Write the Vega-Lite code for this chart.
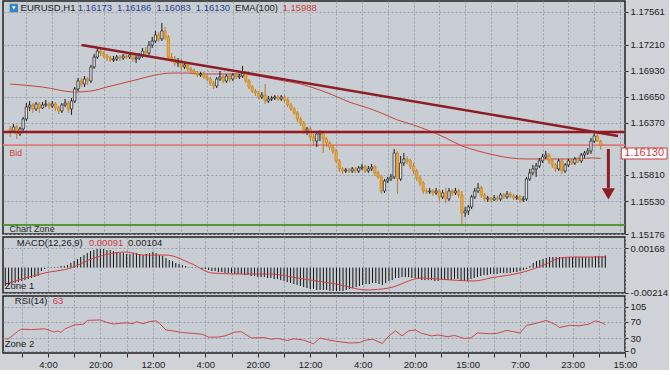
{
"$schema": "https://vega.github.io/schema/vega-lite/v6.json",
"padding": 0,
"background": "#cfd3d7",
"spacing": 3,
"bounds": "flush",
"config": {
 "view": {"fill": "#c8ced4", "stroke": "#222222", "strokeWidth": 1.5},
 "axis": {"labelFont": "Liberation Sans", "labelFontSize": 9.5, "labelColor": "#1c1c1c", "gridColor": "#98a1a9", "gridDash": [2,2], "gridWidth": 1, "tickColor": "#2a2a2a", "tickSize": 3, "labelPadding": 2, "domain": false},
 "text": {"font": "Liberation Sans", "fontSize": 9.5, "baseline": "middle", "align": "left"}
},
"datasets": {
 "k": [
{"i":0,"o":1.16304,"h":1.16336,"l":1.16218,"c":1.16283,"m":-0.00158},
{"i":1,"o":1.16283,"h":1.16358,"l":1.16261,"c":1.16326,"m":-0.00149},
{"i":2,"o":1.16326,"h":1.16347,"l":1.16197,"c":1.16250,"m":-0.00141},
{"i":3,"o":1.16250,"h":1.16326,"l":1.16229,"c":1.16304,"m":-0.00132},
{"i":4,"o":1.16304,"h":1.16433,"l":1.16283,"c":1.16412,"m":-0.00124},
{"i":5,"o":1.16412,"h":1.16583,"l":1.16390,"c":1.16540,"m":-0.00115},
{"i":6,"o":1.16540,"h":1.16605,"l":1.16497,"c":1.16562,"m":-0.00107},
{"i":7,"o":1.16562,"h":1.16583,"l":1.16476,"c":1.16519,"m":-0.00098},
{"i":8,"o":1.16519,"h":1.16594,"l":1.16497,"c":1.16573,"m":-0.00089},
{"i":9,"o":1.16573,"h":1.16594,"l":1.16476,"c":1.16530,"m":-0.00081},
{"i":10,"o":1.16530,"h":1.16594,"l":1.16519,"c":1.16562,"m":-0.00072},
{"i":11,"o":1.16562,"h":1.16616,"l":1.16540,"c":1.16573,"m":-0.00029},
{"i":12,"o":1.16573,"h":1.16594,"l":1.16519,"c":1.16551,"m":-0.00012},
{"i":13,"o":1.16551,"h":1.16605,"l":1.16530,"c":1.16573,"m":-0.00003},
{"i":14,"o":1.16573,"h":1.16594,"l":1.16497,"c":1.16530,"m":0.00005},
{"i":15,"o":1.16530,"h":1.16551,"l":1.16465,"c":1.16497,"m":0.00005},
{"i":16,"o":1.16497,"h":1.16583,"l":1.16476,"c":1.16562,"m":0.00005},
{"i":17,"o":1.16562,"h":1.16626,"l":1.16540,"c":1.16583,"m":0.00014},
{"i":18,"o":1.16583,"h":1.16605,"l":1.16476,"c":1.16519,"m":0.00014},
{"i":19,"o":1.16519,"h":1.16637,"l":1.16455,"c":1.16605,"m":0.00022},
{"i":20,"o":1.16605,"h":1.16755,"l":1.16583,"c":1.16734,"m":0.00040},
{"i":21,"o":1.16734,"h":1.16852,"l":1.16712,"c":1.16820,"m":0.00057},
{"i":22,"o":1.16820,"h":1.16852,"l":1.16755,"c":1.16787,"m":0.00074},
{"i":23,"o":1.16787,"h":1.16873,"l":1.16755,"c":1.16841,"m":0.00091},
{"i":24,"o":1.16841,"h":1.16863,"l":1.16777,"c":1.16820,"m":0.00108},
{"i":25,"o":1.16820,"h":1.16992,"l":1.16798,"c":1.16970,"m":0.00125},
{"i":26,"o":1.16970,"h":1.17110,"l":1.16949,"c":1.17077,"m":0.00143},
{"i":27,"o":1.17077,"h":1.17174,"l":1.17056,"c":1.17142,"m":0.00151},
{"i":28,"o":1.17142,"h":1.17163,"l":1.17088,"c":1.17120,"m":0.00160},
{"i":29,"o":1.17120,"h":1.17142,"l":1.17067,"c":1.17088,"m":0.00160},
{"i":30,"o":1.17088,"h":1.17110,"l":1.17034,"c":1.17067,"m":0.00160},
{"i":31,"o":1.17067,"h":1.17088,"l":1.17024,"c":1.17045,"m":0.00151},
{"i":32,"o":1.17045,"h":1.17088,"l":1.17024,"c":1.17056,"m":0.00151},
{"i":33,"o":1.17056,"h":1.17099,"l":1.17034,"c":1.17077,"m":0.00143},
{"i":34,"o":1.17077,"h":1.17099,"l":1.17034,"c":1.17067,"m":0.00134},
{"i":35,"o":1.17067,"h":1.17110,"l":1.17045,"c":1.17088,"m":0.00125},
{"i":36,"o":1.17088,"h":1.17110,"l":1.17056,"c":1.17077,"m":0.00125},
{"i":37,"o":1.17077,"h":1.17120,"l":1.17056,"c":1.17099,"m":0.00117},
{"i":38,"o":1.17099,"h":1.17120,"l":1.17024,"c":1.17056,"m":0.00117},
{"i":39,"o":1.17056,"h":1.17099,"l":1.17013,"c":1.17067,"m":0.00125},
{"i":40,"o":1.17067,"h":1.17120,"l":1.17045,"c":1.17088,"m":0.00125},
{"i":41,"o":1.17088,"h":1.17174,"l":1.17067,"c":1.17142,"m":0.00117},
{"i":42,"o":1.17142,"h":1.17185,"l":1.17088,"c":1.17120,"m":0.00108},
{"i":43,"o":1.17120,"h":1.17249,"l":1.17099,"c":1.17206,"m":0.00117},
{"i":44,"o":1.17206,"h":1.17292,"l":1.17174,"c":1.17249,"m":0.00125},
{"i":45,"o":1.17249,"h":1.17357,"l":1.17228,"c":1.17314,"m":0.00134},
{"i":46,"o":1.17314,"h":1.17346,"l":1.17239,"c":1.17271,"m":0.00125},
{"i":47,"o":1.17271,"h":1.17443,"l":1.17249,"c":1.17357,"m":0.00108},
{"i":48,"o":1.17357,"h":1.17400,"l":1.17260,"c":1.17292,"m":0.00100},
{"i":49,"o":1.17292,"h":1.17314,"l":1.17056,"c":1.17077,"m":0.00082},
{"i":50,"o":1.17077,"h":1.17120,"l":1.17024,"c":1.17056,"m":0.00065},
{"i":51,"o":1.17056,"h":1.17088,"l":1.16981,"c":1.17013,"m":0.00057},
{"i":52,"o":1.17013,"h":1.17067,"l":1.16970,"c":1.17034,"m":0.00040},
{"i":53,"o":1.17034,"h":1.17056,"l":1.16938,"c":1.16970,"m":0.00031},
{"i":54,"o":1.16970,"h":1.17024,"l":1.16949,"c":1.16992,"m":0.00022},
{"i":55,"o":1.16992,"h":1.17013,"l":1.16927,"c":1.16949,"m":0.00014},
{"i":56,"o":1.16949,"h":1.16970,"l":1.16905,"c":1.16927,"m":0.00005},
{"i":57,"o":1.16927,"h":1.16949,"l":1.16884,"c":1.16905,"m":0.00005},
{"i":58,"o":1.16905,"h":1.16927,"l":1.16863,"c":1.16884,"m":-0.00003},
{"i":59,"o":1.16884,"h":1.16916,"l":1.16863,"c":1.16895,"m":-0.00003},
{"i":60,"o":1.16895,"h":1.16916,"l":1.16841,"c":1.16863,"m":-0.00012},
{"i":61,"o":1.16863,"h":1.16884,"l":1.16820,"c":1.16841,"m":-0.00012},
{"i":62,"o":1.16841,"h":1.16863,"l":1.16766,"c":1.16798,"m":-0.00021},
{"i":63,"o":1.16798,"h":1.16820,"l":1.16734,"c":1.16766,"m":-0.00029},
{"i":64,"o":1.16766,"h":1.16863,"l":1.16744,"c":1.16841,"m":-0.00029},
{"i":65,"o":1.16841,"h":1.16927,"l":1.16820,"c":1.16863,"m":-0.00038},
{"i":66,"o":1.16863,"h":1.16884,"l":1.16798,"c":1.16820,"m":-0.00038},
{"i":67,"o":1.16820,"h":1.16895,"l":1.16798,"c":1.16873,"m":-0.00046},
{"i":68,"o":1.16873,"h":1.16895,"l":1.16809,"c":1.16841,"m":-0.00046},
{"i":69,"o":1.16841,"h":1.16905,"l":1.16820,"c":1.16884,"m":-0.00046},
{"i":70,"o":1.16884,"h":1.16905,"l":1.16841,"c":1.16863,"m":-0.00055},
{"i":71,"o":1.16863,"h":1.16895,"l":1.16841,"c":1.16873,"m":-0.00055},
{"i":72,"o":1.16873,"h":1.16981,"l":1.16852,"c":1.16905,"m":-0.00055},
{"i":73,"o":1.16905,"h":1.16927,"l":1.16798,"c":1.16820,"m":-0.00064},
{"i":74,"o":1.16820,"h":1.16841,"l":1.16734,"c":1.16755,"m":-0.00064},
{"i":75,"o":1.16755,"h":1.16777,"l":1.16691,"c":1.16712,"m":-0.00072},
{"i":76,"o":1.16712,"h":1.16734,"l":1.16659,"c":1.16691,"m":-0.00072},
{"i":77,"o":1.16691,"h":1.16712,"l":1.16626,"c":1.16648,"m":-0.00081},
{"i":78,"o":1.16648,"h":1.16701,"l":1.16626,"c":1.16669,"m":-0.00081},
{"i":79,"o":1.16669,"h":1.16787,"l":1.16573,"c":1.16605,"m":-0.00081},
{"i":80,"o":1.16605,"h":1.16659,"l":1.16583,"c":1.16626,"m":-0.00089},
{"i":81,"o":1.16626,"h":1.16659,"l":1.16605,"c":1.16637,"m":-0.00089},
{"i":82,"o":1.16637,"h":1.16669,"l":1.16616,"c":1.16648,"m":-0.00098},
{"i":83,"o":1.16648,"h":1.16669,"l":1.16605,"c":1.16626,"m":-0.00098},
{"i":84,"o":1.16626,"h":1.16669,"l":1.16605,"c":1.16648,"m":-0.00107},
{"i":85,"o":1.16648,"h":1.16669,"l":1.16594,"c":1.16616,"m":-0.00115},
{"i":86,"o":1.16616,"h":1.16637,"l":1.16540,"c":1.16562,"m":-0.00124},
{"i":87,"o":1.16562,"h":1.16583,"l":1.16497,"c":1.16519,"m":-0.00132},
{"i":88,"o":1.16519,"h":1.16540,"l":1.16455,"c":1.16476,"m":-0.00141},
{"i":89,"o":1.16476,"h":1.16497,"l":1.16379,"c":1.16412,"m":-0.00149},
{"i":90,"o":1.16412,"h":1.16433,"l":1.16336,"c":1.16369,"m":-0.00158},
{"i":91,"o":1.16369,"h":1.16390,"l":1.16250,"c":1.16283,"m":-0.00167},
{"i":92,"o":1.16283,"h":1.16326,"l":1.16240,"c":1.16304,"m":-0.00175},
{"i":93,"o":1.16304,"h":1.16326,"l":1.16175,"c":1.16218,"m":-0.00184},
{"i":94,"o":1.16218,"h":1.16250,"l":1.16122,"c":1.16175,"m":-0.00184},
{"i":95,"o":1.16175,"h":1.16283,"l":1.16111,"c":1.16250,"m":-0.00192},
{"i":96,"o":1.16250,"h":1.16293,"l":1.16175,"c":1.16261,"m":-0.00192},
{"i":97,"o":1.16261,"h":1.16283,"l":1.16046,"c":1.16197,"m":-0.00192},
{"i":98,"o":1.16197,"h":1.16218,"l":1.16111,"c":1.16154,"m":-0.00192},
{"i":99,"o":1.16154,"h":1.16175,"l":1.16079,"c":1.16111,"m":-0.00201},
{"i":100,"o":1.16111,"h":1.16132,"l":1.16036,"c":1.16068,"m":-0.00201},
{"i":101,"o":1.16068,"h":1.16089,"l":1.15939,"c":1.15961,"m":-0.00201},
{"i":102,"o":1.15961,"h":1.15982,"l":1.15842,"c":1.15875,"m":-0.00201},
{"i":103,"o":1.15875,"h":1.15896,"l":1.15821,"c":1.15853,"m":-0.00201},
{"i":104,"o":1.15853,"h":1.15885,"l":1.15832,"c":1.15864,"m":-0.00192},
{"i":105,"o":1.15864,"h":1.15885,"l":1.15832,"c":1.15853,"m":-0.00184},
{"i":106,"o":1.15853,"h":1.15896,"l":1.15832,"c":1.15875,"m":-0.00175},
{"i":107,"o":1.15875,"h":1.15896,"l":1.15832,"c":1.15853,"m":-0.00167},
{"i":108,"o":1.15853,"h":1.15907,"l":1.15832,"c":1.15885,"m":-0.00158},
{"i":109,"o":1.15885,"h":1.15928,"l":1.15864,"c":1.15896,"m":-0.00149},
{"i":110,"o":1.15896,"h":1.15918,"l":1.15832,"c":1.15853,"m":-0.00141},
{"i":111,"o":1.15853,"h":1.15907,"l":1.15832,"c":1.15875,"m":-0.00141},
{"i":112,"o":1.15875,"h":1.15928,"l":1.15853,"c":1.15896,"m":-0.00132},
{"i":113,"o":1.15896,"h":1.15918,"l":1.15800,"c":1.15832,"m":-0.00132},
{"i":114,"o":1.15832,"h":1.15853,"l":1.15767,"c":1.15789,"m":-0.00141},
{"i":115,"o":1.15789,"h":1.15810,"l":1.15606,"c":1.15638,"m":-0.00149},
{"i":116,"o":1.15638,"h":1.15767,"l":1.15617,"c":1.15746,"m":-0.00132},
{"i":117,"o":1.15746,"h":1.15789,"l":1.15724,"c":1.15767,"m":-0.00115},
{"i":118,"o":1.15767,"h":1.15821,"l":1.15746,"c":1.15789,"m":-0.00107},
{"i":119,"o":1.15789,"h":1.16089,"l":1.15767,"c":1.16046,"m":-0.00089},
{"i":120,"o":1.16046,"h":1.16068,"l":1.15606,"c":1.15767,"m":-0.00089},
{"i":121,"o":1.15767,"h":1.16014,"l":1.15746,"c":1.15939,"m":-0.00081},
{"i":122,"o":1.15939,"h":1.16046,"l":1.15907,"c":1.15982,"m":-0.00081},
{"i":123,"o":1.15982,"h":1.16014,"l":1.15928,"c":1.15961,"m":-0.00081},
{"i":124,"o":1.15961,"h":1.15982,"l":1.15875,"c":1.15907,"m":-0.00089},
{"i":125,"o":1.15907,"h":1.15939,"l":1.15821,"c":1.15853,"m":-0.00089},
{"i":126,"o":1.15853,"h":1.15875,"l":1.15746,"c":1.15778,"m":-0.00098},
{"i":127,"o":1.15778,"h":1.15800,"l":1.15692,"c":1.15724,"m":-0.00107},
{"i":128,"o":1.15724,"h":1.15746,"l":1.15606,"c":1.15638,"m":-0.00107},
{"i":129,"o":1.15638,"h":1.15671,"l":1.15606,"c":1.15628,"m":-0.00107},
{"i":130,"o":1.15628,"h":1.15671,"l":1.15606,"c":1.15638,"m":-0.00107},
{"i":131,"o":1.15638,"h":1.15660,"l":1.15585,"c":1.15617,"m":-0.00115},
{"i":132,"o":1.15617,"h":1.15671,"l":1.15595,"c":1.15638,"m":-0.00115},
{"i":133,"o":1.15638,"h":1.15660,"l":1.15531,"c":1.15574,"m":-0.00107},
{"i":134,"o":1.15574,"h":1.15649,"l":1.15552,"c":1.15617,"m":-0.00107},
{"i":135,"o":1.15617,"h":1.15671,"l":1.15510,"c":1.15552,"m":-0.00107},
{"i":136,"o":1.15552,"h":1.15671,"l":1.15531,"c":1.15638,"m":-0.00107},
{"i":137,"o":1.15638,"h":1.15660,"l":1.15585,"c":1.15617,"m":-0.00098},
{"i":138,"o":1.15617,"h":1.15671,"l":1.15595,"c":1.15638,"m":-0.00098},
{"i":139,"o":1.15638,"h":1.15660,"l":1.15563,"c":1.15595,"m":-0.00107},
{"i":140,"o":1.15595,"h":1.15638,"l":1.15284,"c":1.15402,"m":-0.00115},
{"i":141,"o":1.15402,"h":1.15467,"l":1.15359,"c":1.15424,"m":-0.00115},
{"i":142,"o":1.15424,"h":1.15488,"l":1.15381,"c":1.15467,"m":-0.00098},
{"i":143,"o":1.15467,"h":1.15595,"l":1.15445,"c":1.15574,"m":-0.00089},
{"i":144,"o":1.15574,"h":1.15671,"l":1.15552,"c":1.15638,"m":-0.00081},
{"i":145,"o":1.15638,"h":1.15724,"l":1.15617,"c":1.15671,"m":-0.00072},
{"i":146,"o":1.15671,"h":1.15692,"l":1.15563,"c":1.15595,"m":-0.00064},
{"i":147,"o":1.15595,"h":1.15617,"l":1.15531,"c":1.15552,"m":-0.00064},
{"i":148,"o":1.15552,"h":1.15585,"l":1.15520,"c":1.15563,"m":-0.00055},
{"i":149,"o":1.15563,"h":1.15574,"l":1.15520,"c":1.15542,"m":-0.00055},
{"i":150,"o":1.15542,"h":1.15595,"l":1.15531,"c":1.15563,"m":-0.00055},
{"i":151,"o":1.15563,"h":1.15585,"l":1.15531,"c":1.15552,"m":-0.00046},
{"i":152,"o":1.15552,"h":1.15617,"l":1.15531,"c":1.15595,"m":-0.00046},
{"i":153,"o":1.15595,"h":1.15617,"l":1.15552,"c":1.15574,"m":-0.00046},
{"i":154,"o":1.15574,"h":1.15638,"l":1.15552,"c":1.15606,"m":-0.00046},
{"i":155,"o":1.15606,"h":1.15628,"l":1.15563,"c":1.15585,"m":-0.00038},
{"i":156,"o":1.15585,"h":1.15606,"l":1.15542,"c":1.15563,"m":-0.00038},
{"i":157,"o":1.15563,"h":1.15595,"l":1.15542,"c":1.15574,"m":-0.00029},
{"i":158,"o":1.15574,"h":1.15595,"l":1.15510,"c":1.15542,"m":-0.00021},
{"i":159,"o":1.15542,"h":1.15585,"l":1.15520,"c":1.15552,"m":-0.00012},
{"i":160,"o":1.15552,"h":1.15789,"l":1.15531,"c":1.15767,"m":0.00014},
{"i":161,"o":1.15767,"h":1.15875,"l":1.15746,"c":1.15832,"m":0.00040},
{"i":162,"o":1.15832,"h":1.15918,"l":1.15810,"c":1.15875,"m":0.00057},
{"i":163,"o":1.15875,"h":1.15939,"l":1.15789,"c":1.15907,"m":0.00065},
{"i":164,"o":1.15907,"h":1.15993,"l":1.15885,"c":1.15961,"m":0.00074},
{"i":165,"o":1.15961,"h":1.16036,"l":1.15939,"c":1.16004,"m":0.00082},
{"i":166,"o":1.16004,"h":1.16068,"l":1.15982,"c":1.16025,"m":0.00091},
{"i":167,"o":1.16025,"h":1.16046,"l":1.15928,"c":1.15961,"m":0.00091},
{"i":168,"o":1.15961,"h":1.15982,"l":1.15885,"c":1.15918,"m":0.00091},
{"i":169,"o":1.15918,"h":1.15939,"l":1.15842,"c":1.15875,"m":0.00091},
{"i":170,"o":1.15875,"h":1.15982,"l":1.15853,"c":1.15961,"m":0.00091},
{"i":171,"o":1.15961,"h":1.15982,"l":1.15821,"c":1.15853,"m":0.00091},
{"i":172,"o":1.15853,"h":1.15939,"l":1.15832,"c":1.15918,"m":0.00091},
{"i":173,"o":1.15918,"h":1.15982,"l":1.15896,"c":1.15961,"m":0.00091},
{"i":174,"o":1.15961,"h":1.15982,"l":1.15918,"c":1.15939,"m":0.00091},
{"i":175,"o":1.15939,"h":1.16004,"l":1.15918,"c":1.15982,"m":0.00091},
{"i":176,"o":1.15982,"h":1.16004,"l":1.15939,"c":1.15961,"m":0.00091},
{"i":177,"o":1.15961,"h":1.16046,"l":1.15939,"c":1.16025,"m":0.00091},
{"i":178,"o":1.16025,"h":1.16068,"l":1.15993,"c":1.16046,"m":0.00091},
{"i":179,"o":1.16046,"h":1.16100,"l":1.16025,"c":1.16068,"m":0.00091},
{"i":180,"o":1.16068,"h":1.16208,"l":1.16036,"c":1.16175,"m":0.00100},
{"i":181,"o":1.16175,"h":1.16272,"l":1.16154,"c":1.16229,"m":0.00100},
{"i":182,"o":1.16229,"h":1.16261,"l":1.16165,"c":1.16173,"m":0.00100},
{"i":183,"o":1.16173,"h":1.16186,"l":1.16083,"c":1.16130,"m":0.00104}
 ],
 "ema": [
{"i":0,"v":1.16787},{"i":10,"v":1.16755},{"i":20,"v":1.16701},{"i":25,"v":1.16712},{"i":30,"v":1.16755},{"i":35,"v":1.16798},{"i":40,"v":1.16841},{"i":45,"v":1.16884},{"i":50,"v":1.16905},{"i":55,"v":1.16905},{"i":60,"v":1.16895},{"i":65,"v":1.16895},{"i":70,"v":1.16895},{"i":75,"v":1.16884},{"i":80,"v":1.16852},{"i":85,"v":1.16820},{"i":90,"v":1.16787},{"i":95,"v":1.16734},{"i":100,"v":1.16669},{"i":105,"v":1.16594},{"i":110,"v":1.16540},{"i":115,"v":1.16476},{"i":120,"v":1.16401},{"i":125,"v":1.16347},{"i":130,"v":1.16283},{"i":135,"v":1.16208},{"i":140,"v":1.16122},{"i":145,"v":1.16068},{"i":150,"v":1.16025},{"i":155,"v":1.15993},{"i":160,"v":1.15982},{"i":165,"v":1.15982},{"i":170,"v":1.15982},{"i":175,"v":1.15982},{"i":180,"v":1.15993},{"i":183,"v":1.15988}
 ],
 "sig": [
{"i":0,"s":-0.00141},{"i":12,"s":-0.00046},{"i":20,"s":-0.00003},{"i":27,"s":0.00082},{"i":33,"s":0.00125},{"i":37,"s":0.00134},{"i":42,"s":0.00108},{"i":49,"s":0.00108},{"i":57,"s":0.00031},{"i":63,"s":-0.00046},{"i":71,"s":-0.00055},{"i":81,"s":-0.00055},{"i":89,"s":-0.00089},{"i":95,"s":-0.00115},{"i":101,"s":-0.00141},{"i":110,"s":-0.00192},{"i":117,"s":-0.00175},{"i":127,"s":-0.00089},{"i":132,"s":-0.00098},{"i":143,"s":-0.00115},{"i":148,"s":-0.00089},{"i":158,"s":-0.00038},{"i":165,"s":0.00031},{"i":169,"s":0.00082},{"i":173,"s":0.00091},{"i":183,"s":0.00091}
 ],
 "rsi": [
{"i":0,"r":29},{"i":1,"r":29},{"i":4,"r":48},{"i":5,"r":52},{"i":8,"r":51},{"i":12,"r":53},{"i":15,"r":45},{"i":16,"r":48},{"i":17,"r":44},{"i":18,"r":52},{"i":21,"r":62},{"i":24,"r":64},{"i":25,"r":73},{"i":29,"r":74},{"i":31,"r":68},{"i":33,"r":64},{"i":35,"r":66},{"i":37,"r":67},{"i":39,"r":65},{"i":40,"r":70},{"i":42,"r":65},{"i":44,"r":70},{"i":46,"r":72},{"i":47,"r":66},{"i":49,"r":50},{"i":51,"r":48},{"i":54,"r":44},{"i":57,"r":42},{"i":60,"r":40},{"i":62,"r":33},{"i":65,"r":33},{"i":67,"r":36},{"i":70,"r":45},{"i":72,"r":46},{"i":74,"r":36},{"i":75,"r":31},{"i":79,"r":32},{"i":81,"r":28},{"i":83,"r":30},{"i":86,"r":25},{"i":88,"r":29},{"i":91,"r":26},{"i":94,"r":17},{"i":96,"r":31},{"i":98,"r":27},{"i":101,"r":23},{"i":105,"r":19},{"i":108,"r":20},{"i":110,"r":26},{"i":112,"r":28},{"i":115,"r":18},{"i":117,"r":36},{"i":119,"r":48},{"i":121,"r":36},{"i":123,"r":48},{"i":125,"r":50},{"i":127,"r":42},{"i":130,"r":36},{"i":132,"r":38},{"i":135,"r":34},{"i":137,"r":37},{"i":140,"r":30},{"i":142,"r":31},{"i":144,"r":43},{"i":148,"r":41},{"i":150,"r":42},{"i":153,"r":49},{"i":155,"r":46},{"i":157,"r":43},{"i":159,"r":61},{"i":162,"r":66},{"i":165,"r":73},{"i":168,"r":62},{"i":169,"r":56},{"i":172,"r":61},{"i":175,"r":60},{"i":178,"r":64},{"i":180,"r":72},{"i":182,"r":67},{"i":183,"r":63}
 ],
 "trend": [{"i":22.1,"p":1.17206},{"i":188.4,"p":1.16229}]
},
"vconcat": [
{
 "width": 622, "height": 233,
 "data": {"values": [{}]},
 "layer": [
  {"mark": {"type": "rule", "color": "#4f9a35", "strokeWidth": 2}, "encoding": {"y": {"datum": 1.15273}}},
  {"mark": {"type": "rule", "color": "#df7b7b", "strokeWidth": 1.8}, "encoding": {"y": {"datum": 1.1613}}},
  {"data": {"name": "ema"}, "mark": {"type": "line", "color": "#c4453f", "strokeWidth": 1, "interpolate": "monotone"},
   "encoding": {"x": {"field": "i", "type": "quantitative"}, "y": {"field": "v", "type": "quantitative"}}},
  {"data": {"name": "k"}, "mark": {"type": "rule", "strokeWidth": 1},
   "encoding": {
    "x": {"field": "i", "type": "quantitative", "scale": {"domain": [-0.7, 189], "nice": false, "zero": false},
          "axis": {"values": [5,13,21,29,37,45,53,61,69,77,85,93,101,109,117,125,133,141,149,157,165,173,181,189], "tickCount": 100, "labels": false, "ticks": false, "grid": true, "title": null, "labelOverlap": false}},
    "y": {"field": "l", "type": "quantitative", "scale": {"domain": [1.15176, 1.17679], "nice": false, "zero": false},
          "axis": {"orient": "right", "values": [1.15176, 1.1553, 1.1581, 1.1637, 1.1665, 1.1693, 1.1721, 1.17561], "tickCount": 100, "format": ".5f", "grid": true, "title": null, "labelOverlap": false, "labelFlush": false}},
    "y2": {"field": "h"},
    "color": {"condition": {"test": "datum.c >= datum.o", "value": "#1a1a1a"}, "value": "#b97a28"}
   }},
  {"data": {"name": "k"}, "mark": {"type": "bar", "orient": "vertical", "width": 2.3, "strokeWidth": 0.7},
   "encoding": {
    "x": {"field": "i", "type": "quantitative"},
    "y": {"field": "o", "type": "quantitative"},
    "y2": {"field": "c"},
    "fill": {"condition": {"test": "datum.c >= datum.o", "value": "#e4e7ea"}, "value": "#f2a630"},
    "stroke": {"condition": {"test": "datum.c >= datum.o", "value": "#1a1a1a"}, "value": "#c98424"}
   }},
  {"mark": {"type": "rule", "color": "#b8585f", "strokeWidth": 4, "opacity": 0.45}, "encoding": {"y": {"datum": 1.16272}}},
  {"mark": {"type": "rule", "color": "#8c1d26", "strokeWidth": 2}, "encoding": {"y": {"datum": 1.16272}}},
  {"data": {"name": "trend"}, "mark": {"type": "line", "color": "#8c1d26", "strokeWidth": 2.5},
   "encoding": {"x": {"field": "i", "type": "quantitative"}, "y": {"field": "p", "type": "quantitative"}}},
  {"mark": {"type": "rule", "color": "#8c1d26", "strokeWidth": 3}, "encoding": {"x": {"datum": 185.4}, "y": {"datum": 1.16089}, "y2": {"datum": 1.15671}}},
  {"mark": {"type": "point", "shape": "triangle-down", "filled": true, "color": "#8c1d26", "size": 170, "opacity": 1}, "encoding": {"x": {"datum": 185.4}, "y": {"datum": 1.15606}}},
  {"mark": {"type": "rect", "fill": "#ffffff", "stroke": "#d0393b", "strokeWidth": 1}, "encoding": {"x": {"datum": 189.4}, "x2": {"datum": 203.6}, "y": {"datum": 1.161}, "y2": {"datum": 1.15982}}},
  {"mark": {"type": "text", "text": "1.16130", "color": "#d0393b", "align": "center", "fontSize": 11}, "encoding": {"x": {"datum": 196.5}, "y": {"datum": 1.16041}}},
  {"mark": {"type": "text", "text": "Bid", "color": "#d0393b", "fontSize": 8.5}, "encoding": {"x": {"datum": -0.2}, "y": {"datum": 1.16046}}},
  {"mark": {"type": "text", "text": "Chart Zone", "color": "#2a2a2a", "fontSize": 9}, "encoding": {"x": {"datum": -0.2}, "y": {"datum": 1.1523}}},
  {"mark": {"type": "point", "shape": "square", "filled": true, "color": "#3b82c8", "size": 70, "opacity": 1}, "encoding": {"x": {"datum": 1.1}, "y": {"datum": 1.17604}}},
  {"mark": {"type": "point", "shape": "triangle-down", "filled": true, "color": "#ffffff", "size": 14, "opacity": 1}, "encoding": {"x": {"datum": 1.1}, "y": {"datum": 1.17604}}},
  {"mark": {"type": "text", "text": "EURUSD,H1", "color": "#1a1a1a"}, "encoding": {"x": {"datum": 3.2}, "y": {"datum": 1.17604}}},
  {"mark": {"type": "text", "text": "1.16173", "color": "#2c3a8c"}, "encoding": {"x": {"datum": 20.9}, "y": {"datum": 1.17604}}},
  {"mark": {"type": "text", "text": "1.16186", "color": "#2c3a8c"}, "encoding": {"x": {"datum": 33.1}, "y": {"datum": 1.17604}}},
  {"mark": {"type": "text", "text": "1.16083", "color": "#2c3a8c"}, "encoding": {"x": {"datum": 45.3}, "y": {"datum": 1.17604}}},
  {"mark": {"type": "text", "text": "1.16130", "color": "#2c3a8c"}, "encoding": {"x": {"datum": 57.5}, "y": {"datum": 1.17604}}},
  {"mark": {"type": "text", "text": "EMA(100)", "color": "#1a1a1a"}, "encoding": {"x": {"datum": 69.7}, "y": {"datum": 1.17604}}},
  {"mark": {"type": "text", "text": "1.15988", "color": "#d0393b"}, "encoding": {"x": {"datum": 84.4}, "y": {"datum": 1.17604}}}
 ]
},
{
 "width": 622, "height": 56,
 "data": {"values": [{}]},
 "layer": [
  {"data": {"name": "k"}, "mark": {"type": "rule", "color": "#111111", "strokeWidth": 1},
   "encoding": {
    "x": {"field": "i", "type": "quantitative", "scale": {"domain": [-0.7, 189], "nice": false, "zero": false},
          "axis": {"values": [5,13,21,29,37,45,53,61,69,77,85,93,101,109,117,125,133,141,149,157,165,173,181,189], "tickCount": 100, "labels": false, "ticks": false, "grid": true, "title": null, "labelOverlap": false}},
    "y": {"field": "m", "type": "quantitative", "scale": {"domain": [-0.00218, 0.00263], "nice": false, "zero": false},
          "axis": {"orient": "right", "values": [-0.00214, 0.00168], "tickCount": 100, "labelExpr": "replace(format(datum.value, '.5f'), '\u2212', '-')", "grid": true, "title": null, "labelOverlap": false, "labelFlush": false}},
    "y2": {"datum": 0}
   }},
  {"data": {"name": "sig"}, "mark": {"type": "line", "color": "#d0403f", "strokeWidth": 1, "interpolate": "monotone"},
   "encoding": {"x": {"field": "i", "type": "quantitative"}, "y": {"field": "s", "type": "quantitative"}}},
  {"mark": {"type": "text", "text": "MACD(12,26,9)", "color": "#1a1a1a"}, "encoding": {"x": {"datum": 3.5}, "y": {"datum": 0.00211}}},
  {"mark": {"type": "text", "text": "0.00091", "color": "#d0393b"}, "encoding": {"x": {"datum": 25.5}, "y": {"datum": 0.00211}}},
  {"mark": {"type": "text", "text": "0.00104", "color": "#1a1a1a"}, "encoding": {"x": {"datum": 37.4}, "y": {"datum": 0.00211}}},
  {"mark": {"type": "text", "text": "Zone 1", "color": "#1a1a1a"}, "encoding": {"x": {"datum": -0.2}, "y": {"datum": -0.00158}}}
 ]
},
{
 "width": 622, "height": 57,
 "data": {"values": [{}]},
 "layer": [
  {"data": {"name": "rsi"}, "mark": {"type": "line", "color": "#c94a4a", "strokeWidth": 1},
   "encoding": {
    "x": {"field": "i", "type": "quantitative", "scale": {"domain": [-0.7, 189], "nice": false, "zero": false},
          "axis": {"values": [5,13,21,29,37,45,53,61,69,77,85,93,101,109,117,125,133,141,149,157,165,173,181,189], "tickCount": 100, "labelExpr": "(datum.value - 5) % 16 == 8 ? ['4:00','20:00','12:00','4:00','20:00','12:00','4:00','20:00','15:00','7:00','23:00','15:00'][(datum.value - 13) / 16] : ''", "grid": true, "ticks": true, "tickSize": 4, "title": null, "labelOverlap": false, "labelFlush": false}},
    "y": {"field": "r", "type": "quantitative", "scale": {"domain": [-4.8, 131], "nice": false, "zero": false},
          "axis": {"orient": "right", "values": [0, 30, 70, 105], "tickCount": 100, "grid": true, "title": null, "labelOverlap": false, "labelFlush": false}}
   }},
  {"mark": {"type": "text", "text": "RSI(14)", "color": "#1a1a1a"}, "encoding": {"x": {"datum": 2.9}, "y": {"datum": 119}}},
  {"mark": {"type": "text", "text": "63", "color": "#d0393b"}, "encoding": {"x": {"datum": 14.5}, "y": {"datum": 119}}},
  {"mark": {"type": "text", "text": "Zone 2", "color": "#1a1a1a"}, "encoding": {"x": {"datum": -0.2}, "y": {"datum": 16.4}}}
 ]
}
]
}
